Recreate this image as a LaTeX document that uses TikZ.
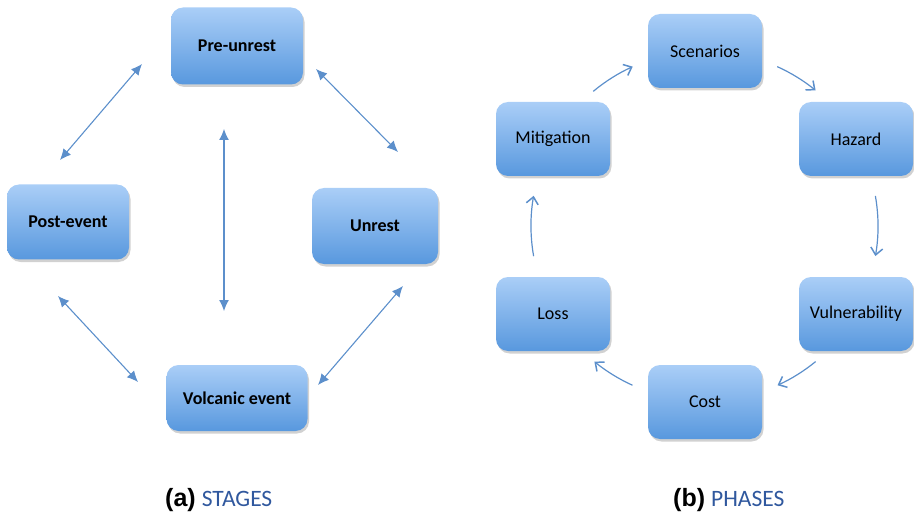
\documentclass[tikz,border=0pt]{standalone}
\usepackage{fontspec}
\setmainfont{Carlito}
\newfontfamily\capfont{Liberation Sans}
\usetikzlibrary{arrows.meta,shadows,calc}
\definecolor{boxtop}{RGB}{170,206,247}
\definecolor{boxbot}{RGB}{88,152,222}
\definecolor{arrowblue}{RGB}{92,143,203}
\definecolor{capblue}{RGB}{48,88,158}
\tikzset{
  stagebox/.style={rounded corners=12pt, top color=boxtop, bottom color=boxbot, draw=none,
    drop shadow={shadow xshift=1.5pt, shadow yshift=-2.5pt, opacity=0.3, fill=black!60},
    font=\fontsize{18}{20}\selectfont\bfseries, text=black, align=center, inner sep=0pt},
  phasebox/.style={stagebox, font=\fontsize{18}{20}\selectfont, minimum width=114pt, minimum height=74pt},
  dblarrow/.style={draw=arrowblue, line width=1.1pt, {Latex[length=11pt,width=10pt]}-{Latex[length=11pt,width=10pt]}},
  cycarrow/.style={draw=arrowblue, line width=1.2pt, -{Straight Barb[length=7pt,width=12pt,line width=1.5pt]}},
  captxt/.style={anchor=base west, inner sep=0pt}
}
\begin{document}
\begin{tikzpicture}[x=1pt,y=-1pt]
\useasboundingbox (0,0) rectangle (914,516);
% stages
\node[stagebox, minimum width=132pt, minimum height=77pt] (pre) at (237,46) {Pre-unrest};
\node[stagebox, minimum width=122pt, minimum height=75pt] (post) at (68,222) {Post-event};
\node[stagebox, minimum width=126pt, minimum height=76pt] (unrest) at (375,226) {Unrest};
\node[stagebox, minimum width=141pt, minimum height=66pt] (volc) at (237,398) {Volcanic event};
\coordinate (a1) at (60,160); \coordinate (a2) at (142,64);
\coordinate (b1) at (316,69); \coordinate (b2) at (398,152);
\coordinate (c1) at (224,129); \coordinate (c2) at (224,311);
\coordinate (d1) at (58,296); \coordinate (d2) at (138,382);
\coordinate (e1) at (403,286); \coordinate (e2) at (318,385);
\draw[dblarrow] (a1) -- (a2);
\draw[dblarrow] (b1) -- (b2);
\draw[dblarrow] (c1) -- (c2);
\draw[dblarrow] (d1) -- (d2);
\draw[dblarrow] (e1) -- (e2);
% phases
\node[phasebox] (scen) at (705,51) {Scenarios};
\node[phasebox] (mit) at (553,139) {Mitigation};
\node[phasebox] (haz) at (856,139) {Hazard};
\node[phasebox] (loss) at (553,314) {Loss};
\node[phasebox] (vul) at (856,314) {Vulnerability};
\node[phasebox] (cost) at (705,402) {Cost};
\coordinate (C) at (705,226);
\draw[cycarrow] (C) ++(129.7:175pt) arc[start angle=129.7, end angle=114.4, radius=175pt];
\draw[cycarrow] (C) ++(65.6:175pt) arc[start angle=65.6, end angle=50.8, radius=175pt];
\draw[cycarrow] (C) ++(10:173pt) arc[start angle=10, end angle=-10, radius=173pt];
\draw[cycarrow] (C) ++(-50.8:175pt) arc[start angle=-50.8, end angle=-65.5, radius=175pt];
\draw[cycarrow] (C) ++(-114.5:175pt) arc[start angle=-114.5, end angle=-129.2, radius=175pt];
\draw[cycarrow] (C) ++(190:174pt) arc[start angle=190, end angle=170, radius=174pt];
% captions
\node[captxt] (capa) at (165,506) {{\capfont\bfseries\fontsize{25}{28}\selectfont (a)}\hspace{6pt}{\fontsize{23.5}{26}\selectfont\color{capblue}STAGES}};
\node[captxt] (capb) at (673,506) {{\capfont\bfseries\fontsize{25}{28}\selectfont (b)}\hspace{6pt}{\fontsize{23.5}{26}\selectfont\color{capblue}PHASES}};
\end{tikzpicture}
\end{document}
